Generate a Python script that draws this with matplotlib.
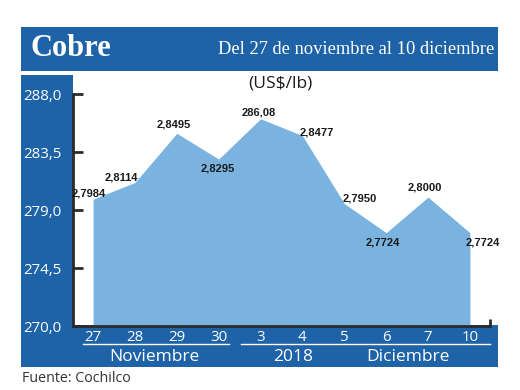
import matplotlib
matplotlib.use("Agg")
import matplotlib.pyplot as plt
from matplotlib.patches import Rectangle
from matplotlib.lines import Line2D

# data
days = ["27", "28", "29", "30", "3", "4", "5", "6", "7", "10"]
prices = [279.84, 281.14, 284.95, 282.95, 286.08, 284.77, 279.50, 277.24, 280.00, 277.24]
point_labels = ["2,7984", "2,8114", "2,8495", "2,8295", "286,08",
                "2,8477", "2,7950", "2,7724", "2,8000", "2,7724"]
y_ticks = [270.0, 274.5, 279.0, 283.5, 288.0]
y_tick_labels = ["270,0", "274,5", "279,0", "283,5", "288,0"]

dark_blue = "#1E63A8"
fill_blue = "#7AB3E0"

W, H = 520, 390
fig = plt.figure(figsize=(W / 100, H / 100), dpi=100)


def fx(px):
    return px / W


def fy(py):
    return 1 - py / H


# background panels (figure coords), kept under the axes
for (x0, y0, w, h) in [(21, 71, 477, 44), (21, 367, 52, 292), (21, 367, 477, 42)]:
    fig.patches.append(Rectangle((fx(x0), fy(y0)), fx(w), h / H, transform=fig.transFigure,
                                 facecolor=dark_blue, edgecolor="none", zorder=-1))

ax = fig.add_axes([fx(73), fy(326), fx(417), 232 / H])
ax.set_facecolor("none")

x = list(range(len(days)))
ax.fill_between(x, prices, 270, color=fill_blue, linewidth=0)

ax.set_xlim(-0.48, 9.48)
ax.set_ylim(270, 288)

ax.spines["top"].set_visible(False)
ax.spines["right"].set_visible(False)
for s in ["left", "bottom"]:
    ax.spines[s].set_color("#2b2b2b")
    ax.spines[s].set_linewidth(2)

ax.set_yticks(y_ticks)
ax.set_yticklabels(y_tick_labels)
ax.tick_params(axis="y", direction="in", length=7, width=2, color="#2b2b2b",
               labelcolor="white", labelsize=10.8, pad=8)
ax.set_xticks(x)
ax.set_xticklabels(days)
ax.tick_params(axis="x", length=0, labelcolor="white", labelsize=10.8, pad=3)
for lab in ax.get_xticklabels() + ax.get_yticklabels():
    lab.set_family("Open Sans")

# small upturned end of the x axis
ax.plot([1, 1], [0, 0.03], transform=ax.transAxes, color="#2b2b2b", lw=2,
        clip_on=False, solid_capstyle="butt")

# point labels
offsets = [(-4, 6), (-14, 5), (-3, 9), (-1, -9), (-2, 6),
           (14, 3), (15, 5), (-3, -10), (-3, 10), (13, -10)]
for xi, yi, txt, off in zip(x, prices, point_labels, offsets):
    ax.annotate(txt, (xi, yi), xytext=(off[0] * 0.72, off[1] * 0.72),
                textcoords="offset points", ha="center", va="center",
                fontsize=8, fontweight="bold", family="Liberation Sans",
                color="#1a1a1a")

# titles
fig.text(fx(31), fy(48), "Cobre", color="white", fontsize=22, fontweight="bold",
         family="Liberation Serif", ha="left", va="center")
fig.text(fx(494), fy(50), "Del 27 de noviembre al 10 diciembre", color="white",
         fontsize=13.3, family="Liberation Serif", ha="right", va="center")
fig.text(fx(280), fy(83), "(US$/lb)", color="#1a1a1a", fontsize=12.5,
         family="Open Sans", ha="center", va="center")

# month underlines and labels
fig.add_artist(Line2D([fx(83), fx(229)], [fy(344), fy(344)], color="white", lw=1))
fig.add_artist(Line2D([fx(241), fx(490)], [fy(344), fy(344)], color="white", lw=1))
fig.text(fx(154), fy(357), "Noviembre", color="white", fontsize=12.5,
         family="Open Sans", ha="center", va="center")
fig.text(fx(293), fy(357), "2018", color="white", fontsize=12.5,
         family="Open Sans", ha="center", va="center")
fig.text(fx(408), fy(357), "Diciembre", color="white", fontsize=12.5,
         family="Open Sans", ha="center", va="center")

fig.text(fx(22), fy(378), "Fuente: Cochilco", color="#333333", fontsize=10.3,
         family="Open Sans", ha="left", va="center")

fig.savefig("out.png", dpi=100)
